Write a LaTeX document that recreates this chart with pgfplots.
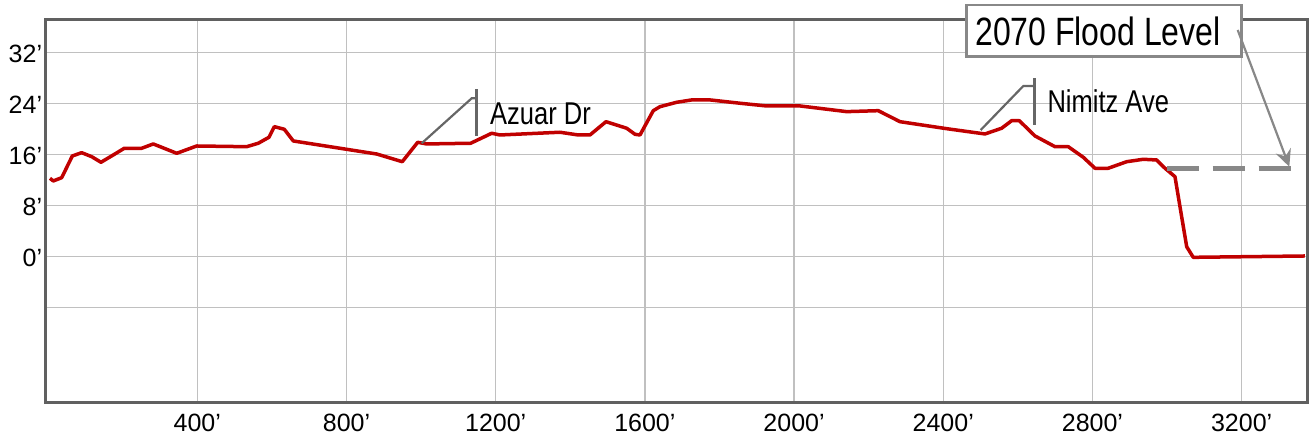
\documentclass[border=0pt]{standalone}
\usepackage{fontspec}
\setmainfont{Liberation Sans}
\newfontfamily\narrowfont[FakeStretch=0.81]{Liberation Sans}
\usepackage{pgfplots}
\pgfplotsset{compat=1.18}
\usetikzlibrary{arrows.meta}
\definecolor{profred}{HTML}{C00000}
\definecolor{framegray}{HTML}{606060}
\definecolor{gridgray}{HTML}{C0C0C0}
\definecolor{annogray}{HTML}{666666}
\definecolor{floodgray}{HTML}{888888}
\begin{document}
\begin{tikzpicture}[x=1pt,y=1pt]
\begin{axis}[
 at={(0,0)}, anchor=north west, name=ax,
 scale only axis, width=1262pt, height=382.6pt,
 xmin=-7.5, xmax=3376, ymin=-22.95, ymax=37.19,
 xtick={400,800,...,3200},
 xticklabels={400’,800’,1200’,1600’,2000’,2400’,2800’,3200’},
 ytick={-8,0,8,16,24,32}, yticklabels={,0’,8’,16’,24’,32’},
 major tick length=0pt,
 grid=major, major grid style={gridgray, line width=1.3pt},
 axis line style={framegray, line width=2.8pt},
 tick label style={font=\fontsize{25}{28}\selectfont, text=black},
 xticklabel style={anchor=north, inner sep=0pt, yshift=-12pt},
 yticklabel style={anchor=east, inner sep=0pt, xshift=-3pt, yshift=-1.5pt},
 clip=false,
]
\addplot[profred, line width=3.5pt, line join=round] coordinates {
(5.1,12.26) (13.9,11.84) (36.5,12.36) (64.9,15.77) (90.1,16.29) (116.9,15.66)
(141.8,14.78) (174.8,15.93) (204.3,16.98) (250.9,16.98) (282.0,17.66) (344.8,16.19)
(398.4,17.34) (532.4,17.23) (563.5,17.77) (592.2,18.71) (606.4,20.38) (633.2,19.97)
(657.4,18.13) (881.0,16.08) (949.6,14.87) (990.9,17.92) (1015.0,17.66) (1133.0,17.77)
(1189.3,19.34) (1211.5,19.07) (1372.4,19.50) (1421.4,19.07) (1452.8,19.07) (1495.7,21.16)
(1551.2,20.13) (1573.5,19.18) (1586.9,19.07) (1622.5,22.89) (1640.5,23.52) (1685.3,24.21)
(1725.5,24.58) (1774.5,24.58) (1855.0,24.06) (1926.5,23.63) (2016.4,23.63) (2141.0,22.74)
(2225.7,22.89) (2283.9,21.16) (2409.1,20.06) (2511.8,19.23) (2556.6,20.13) (2583.4,21.32)
(2603.8,21.32) (2645.8,18.92) (2699.5,17.23) (2735.1,17.23) (2775.3,15.57) (2806.7,13.84)
(2842.4,13.84) (2891.7,14.87) (2936.2,15.25) (2972.1,15.14) (2994.4,13.84) (3021.2,12.52)
(3052.6,1.51) (3070.2,-0.16) (3369.6,0.05)
};
\addplot[floodgray, line width=4.5pt, dash pattern=on 32pt off 14pt] coordinates {
(2999,13.84) (3364,13.84)
};
\end{axis}
\pgfresetboundingbox
\begin{scope}[shift={(-45.3,19.7)}, yscale=-1]
\path[use as bounding box] (0,0) rectangle (1314,442);
% Azuar Dr
\draw[annogray, line width=2.2pt] (421.7,143.3) -- (471.7,98.3) -- (476.7,98.3);
\draw[annogray, line width=3pt] (476.7,89.3) -- (476.7,136);
\node[anchor=base west, inner sep=0pt, font=\narrowfont\fontsize{31.5}{36}\selectfont] at (490,124.3) {Azuar Dr};
% Nimitz Ave
\draw[annogray, line width=2.2pt] (980.7,130) -- (1023.3,86) -- (1034,86);
\draw[annogray, line width=3pt] (1034,78.3) -- (1034,125);
\node[anchor=base west, inner sep=0pt, font=\narrowfont\fontsize{31.5}{36}\selectfont] at (1047.3,112.7) {Nimitz Ave};
% Flood level box
\draw[floodgray, line width=2.6pt, fill=white] (966.7,5) rectangle (1241.7,56.7);
\node[anchor=base west, inner sep=0pt, font=\narrowfont\fontsize{39.5}{44}\selectfont] at (975,45) {2070 Flood Level};
\draw[floodgray, line width=2.2pt, -{Stealth[length=17pt, width=16pt, inset=6pt]}] (1237.7,30) -- (1289.3,166.7);
\end{scope}
\end{tikzpicture}
\end{document}
